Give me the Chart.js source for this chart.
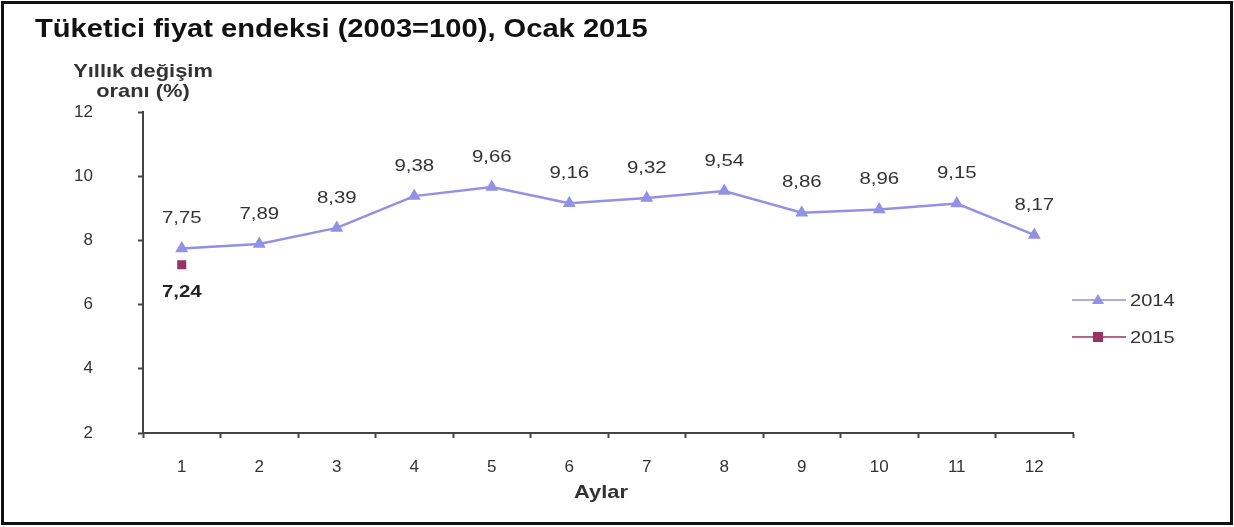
<!DOCTYPE html>
<html>
<head>
<meta charset="utf-8">
<script src="https://cdn.jsdelivr.net/npm/chart.js@4/dist/chart.umd.min.js"></script>
<style>
    html, body { margin: 0; padding: 0; background: #fff; }
    #wrap { position: relative; width: 1234px; height: 527px; }
</style>
</head>
<body>
<div id="wrap"><canvas id="cpiChart" width="1234" height="527"></canvas></div>
<script>
const months = ['1', '2', '3', '4', '5', '6', '7', '8', '9', '10', '11', '12'];
const values2014 = [7.75, 7.89, 8.39, 9.38, 9.66, 9.16, 9.32, 9.54, 8.86, 8.96, 9.15, 8.17];
const values2015 = [7.24, null, null, null, null, null, null, null, null, null, null, null];
const yTicks = [2, 4, 6, 8, 10, 12];

const color2014 = '#9191E6';
const color2015 = '#993366';
const textColor = '#333333';
const fontFamily = '"Liberation Sans", Arial, sans-serif';

function fmt(v) {
    return v.toFixed(2).replace('.', ',');
}

// the reference picture is a bit wider than tall, so text gets a small horizontal stretch
function stretchText(ctx, text, x, y, font, align, sx) {
    ctx.save();
    ctx.font = font;
    ctx.textAlign = align;
    ctx.textBaseline = 'middle';
    ctx.translate(x, y);
    ctx.scale(sx, 1);
    ctx.fillText(text, 0, 0);
    ctx.restore();
}

// frame, title, axis titles, value labels and legend
const decorPlugin = {
    id: 'decor',
    afterDraw(chart) {
        const ctx = chart.ctx;
        ctx.save();

        ctx.strokeStyle = '#111';
        ctx.lineWidth = 3;
        ctx.strokeRect(2.5, 2.5, 1229, 521);

        ctx.fillStyle = '#111';
        stretchText(ctx, 'Tüketici fiyat endeksi (2003=100), Ocak 2015', 35, 30, 'bold 26px ' + fontFamily, 'left', 1.12);

        ctx.fillStyle = textColor;
        stretchText(ctx, 'Yıllık değişim', 143, 72, 'bold 19px ' + fontFamily, 'center', 1.15);
        stretchText(ctx, 'oranı (%)', 143, 92, 'bold 19px ' + fontFamily, 'center', 1.15);
        stretchText(ctx, 'Aylar', 601, 493, 'bold 19px ' + fontFamily, 'center', 1.15);

        // value labels
        const m0 = chart.getDatasetMeta(0);
        m0.data.forEach((pt, i) => {
            stretchText(ctx, fmt(values2014[i]), pt.x, pt.y - 30, '17px ' + fontFamily, 'center', 1.2);
        });
        const m1 = chart.getDatasetMeta(1);
        ctx.fillStyle = '#222';
        m1.data.forEach((pt, i) => {
            if (values2015[i] !== null) {
                stretchText(ctx, fmt(values2015[i]), pt.x, pt.y + 28, 'bold 17px ' + fontFamily, 'center', 1.2);
            }
        });

        // legend
        const items = [
            { label: '2014', color: color2014, y: 300, style: 'triangle' },
            { label: '2015', color: color2015, y: 337, style: 'rect' }
        ];
        items.forEach(it => {
            ctx.strokeStyle = it.color;
            ctx.lineWidth = 1.5;
            ctx.beginPath();
            ctx.moveTo(1072, it.y);
            ctx.lineTo(1126, it.y);
            ctx.stroke();
            ctx.fillStyle = it.color;
            if (it.style === 'rect') {
                ctx.fillRect(1093, it.y - 5, 10, 10);
            } else {
                ctx.beginPath();
                ctx.moveTo(1098, it.y - 6);
                ctx.lineTo(1104, it.y + 4);
                ctx.lineTo(1092, it.y + 4);
                ctx.closePath();
                ctx.fill();
            }
            ctx.fillStyle = textColor;
            stretchText(ctx, it.label, 1130, it.y + 1, '17px ' + fontFamily, 'left', 1.18);
        });

        ctx.restore();
    }
};

const ctx = document.getElementById('cpiChart').getContext('2d');
new Chart(ctx, {
    type: 'line',
    data: {
        labels: months,
        datasets: [
            {
                label: '2014',
                data: values2014,
                borderColor: color2014,
                backgroundColor: color2014,
                borderWidth: 2.5,
                pointStyle: 'triangle',
                pointRadius: 5,
                tension: 0
            },
            {
                label: '2015',
                data: values2015,
                borderColor: color2015,
                backgroundColor: color2015,
                borderWidth: 2,
                pointStyle: 'rect',
                pointRadius: 5,
                spanGaps: false
            }
        ]
    },
    options: {
        responsive: false,
        animation: false,
        layout: { padding: { left: 0, top: 112, right: 161, bottom: 44 } },
        plugins: {
            legend: { display: false },
            tooltip: { enabled: false }
        },
        scales: {
            x: {
                offset: true,
                afterFit(axis) {
                    axis.height = 50;
                },
                grid: {
                    offset: true,
                    drawOnChartArea: false,
                    drawTicks: true,
                    tickLength: 5,
                    tickWidth: 2,
                    color: '#444'
                },
                border: { color: '#444', width: 2 },
                ticks: {
                    color: textColor,
                    font: { size: 17, family: fontFamily },
                    padding: 19
                }
            },
            y: {
                min: 2,
                max: 12,
                afterBuildTicks(axis) {
                    axis.ticks = yTicks.map(v => ({ value: v }));
                },
                afterFit(axis) {
                    axis.width = 143;
                },
                grid: {
                    drawOnChartArea: false,
                    drawTicks: true,
                    tickLength: 5,
                    tickWidth: 2,
                    color: '#444'
                },
                border: { color: '#444', width: 2 },
                ticks: {
                    color: textColor,
                    font: { size: 17, family: fontFamily },
                    padding: 45
                }
            }
        }
    },
    plugins: [decorPlugin]
});
</script>
</body>
</html>
